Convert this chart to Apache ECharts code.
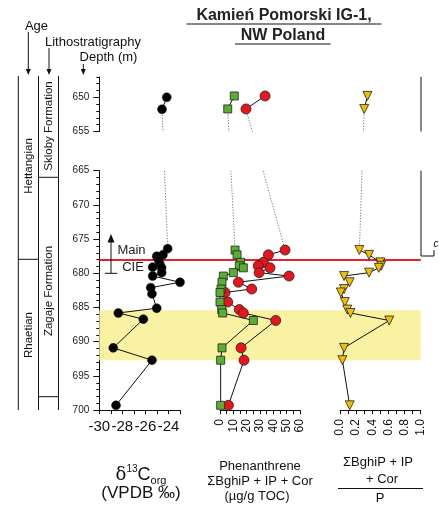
<!DOCTYPE html>
<html>
<head>
<meta charset="utf-8">
<script src="https://cdn.jsdelivr.net/npm/echarts@6/dist/echarts.min.js"></script>
<style>
  html, body { margin: 0; padding: 0; background: #fff; }
  #chart { width: 439px; height: 505px; }
</style>
</head>
<body>
<div id="chart"></div>
<script>
// d13C org samples (depth m / per mil)
const carbonDepth = [650.0, 651.75, 676.4, 677.3, 677.5, 678.1, 678.7, 679.1, 679.2, 679.9, 680.4, 681.3, 682.1, 683.0, 685.1, 685.8, 686.7, 690.9, 692.7, 699.3]
const carbonValue = [-24.15, -24.56, -24.07, -24.48, -25.02, -24.85, -24.74, -25.37, -24.59, -24.59, -25.37, -23.0, -25.54, -25.43, -25.02, -28.35, -26.18, -28.79, -25.43, -28.55]

// PAH samples
const pahDepth = [649.8, 651.7, 676.6, 677.3, 678.4, 678.9, 679.2, 679.9, 680.4, 681.3, 682.3, 682.8, 684.2, 685.3, 685.8, 686.9, 690.9, 692.7, 699.3]
const phenanthrene = [33.8, 19.5, 48.8, 36.3, 32.5, 28.7, 37.5, 29.3, 51.8, 13.8, 23.8, 3.8, 5.8, 14.5, 17.5, 41.8, 15.8, 18.0, 6.3]
const combustion = [10.7, 5.8, 11.3, 12.8, 15.5, 14.5, 17.5, 10.0, 2.5, 1.5, 0.8, 0.0, 0.0, 1.3, 2.0, 25.0, 1.5, 0.5, 0.5]
const ratio = [0.34, 0.30, 0.24, 0.36, 0.50, 0.51, 0.48, 0.36, 0.05, 0.12, 0.05, 0.01, 0.06, 0.09, 0.13, 0.61, 0.05, 0.03, 0.12]

// axis ticks / labels
const depthLabelsUpper = [650, 655]
const depthLabelsLower = [665, 670, 675, 680, 685, 690, 695, 700]
const carbonLabels = [-30, -28, -26, -24]
const carbonTicks = [-30, -29, -28, -27, -26, -25, -24, -23]
const pahLabels = [0, 10, 20, 30, 40, 50, 60]
const pahTicks = [0, 5, 10, 15, 20, 25, 30, 35, 40, 45, 50, 55, 60]
const ratioLabels = [0, 0.2, 0.4, 0.6, 0.8, 1.0]
const ratioTicks = [0, 0.1, 0.2, 0.3, 0.4, 0.5, 0.6, 0.7, 0.8, 0.9, 1.0]

const cieDepth = 678.0
const bandDepth = [685.4, 692.7]

// depth axis is broken between 655 and 665 m
const breakTop = 655
const breakBottom = 665
const breakGap = 5.73
const toPlot = (d) => (d <= breakTop ? d : d - (breakBottom - breakTop) + breakGap)

const FONT = 'Liberation Sans, Arial, sans-serif'
const top0 = 76.8
const pxPerM = 6.84
const plotMin = 647
const plotMax = toPlot(700)
const plotH = (plotMax - plotMin) * pxPerM
const lowerTop = top0 + (toPlot(breakBottom) - plotMin) * pxPerM

const range = (a, b) => {
  const out = []
  for (let v = a; v <= b; v++) out.push(v)
  return out
}

const chart = echarts.init(document.getElementById('chart'))

function profile(values, depths, axis, mark) {
  const pts = values.map((v, i) => [v, toPlot(depths[i])])
  const nUpper = depths.filter((d) => d <= breakTop).length
  const base = {
    type: 'line',
    xAxisIndex: axis,
    yAxisIndex: axis,
    clip: false,
    animation: false,
    silent: true,
    z: 5,
    symbol: mark.symbol,
    symbolSize: mark.size,
    symbolRotate: mark.rotate || 0,
    itemStyle: { color: mark.color, borderColor: '#222', borderWidth: mark.border },
    lineStyle: { color: '#111', width: 1 }
  }
  return [
    { ...base, data: [pts[nUpper - 1], pts[nUpper]], symbol: 'none', z: 4,
      lineStyle: { color: '#777', width: 1, type: [1.2, 1.6] } },
    { ...base, data: pts.slice(0, nUpper) },
    { ...base, data: pts.slice(nUpper) }
  ]
}

const axisLine = { lineStyle: { color: '#111', width: 1 } }

function bottomAxis(grid, min, max, interval, ticks, labels, label) {
  return {
    gridIndex: grid,
    type: 'value',
    min,
    max,
    interval,
    axisLine,
    axisTick: { customValues: ticks, length: 4, lineStyle: { color: '#111' } },
    axisLabel: { customValues: labels, color: '#111', fontFamily: FONT, ...label },
    splitLine: { show: false }
  }
}

const hiddenY = (grid) => ({ gridIndex: grid, type: 'value', min: plotMin, max: plotMax, inverse: true, show: false })

function depthAxes(grid, min, max, labels) {
  return [
    { gridIndex: grid, type: 'value', position: 'left', min, max, inverse: true,
      axisLine, splitLine: { show: false },
      axisTick: { customValues: range(min, max), length: 3, lineStyle: { color: '#111' } },
      axisLabel: { show: false } },
    { gridIndex: grid, type: 'value', position: 'left', min, max, inverse: true,
      axisLine: { show: false }, splitLine: { show: false },
      axisTick: { customValues: labels, length: 6, lineStyle: { color: '#111' } },
      axisLabel: { customValues: labels, fontSize: 10, color: '#222', fontFamily: FONT, margin: 10 } }
  ]
}

const line = (x1, y1, x2, y2, w) => ({
  type: 'line', z: 10, silent: true,
  shape: { x1, y1, x2, y2 },
  style: { stroke: '#111', lineWidth: w || 1 }
})
const text = (x, y, str, size, extra) => ({
  type: 'text', z: 10, silent: true, x, y,
  style: { text: str, fill: '#111', fontSize: size, fontFamily: FONT, align: 'center', verticalAlign: 'middle', ...extra }
})
const vtext = (x, y, str, size) => ({ ...text(x, y, str, size), rotation: Math.PI / 2 })
const arrowDown = (x, y1, y2) => [
  line(x, y1, x, y2 - 4),
  { type: 'polygon', z: 10, silent: true, shape: { points: [[x - 2.5, y2 - 6], [x + 2.5, y2 - 6], [x, y2]] }, style: { fill: '#111' } }
]

const gridBase = { outerBoundsMode: 'none', containLabel: false }

const options = {
  animation: false,
  backgroundColor: '#fff',
  textStyle: { fontFamily: FONT },
  grid: [
    { ...gridBase, left: 99.3, top: top0, width: 80.7, height: plotH },
    { ...gridBase, left: 220, top: top0, width: 80, height: plotH },
    { ...gridBase, left: 340, top: top0, width: 80.7, height: plotH },
    { ...gridBase, left: 99.3, top: top0, width: 321.4, height: plotH },
    { ...gridBase, left: 99.3, top: top0, width: 80, height: (breakTop - plotMin) * pxPerM },
    { ...gridBase, left: 99.3, top: lowerTop, width: 80, height: (700 - breakBottom) * pxPerM }
  ],
  xAxis: [
    bottomAxis(0, -30, -23, 2, carbonTicks, carbonLabels, { fontSize: 15, margin: 9 }),
    bottomAxis(1, 0, 60, 10, pahTicks, pahLabels, { fontSize: 12, rotate: 90, margin: 9 }),
    bottomAxis(2, 0, 1, 0.2, ratioTicks, ratioLabels, { fontSize: 12, rotate: 90, margin: 9, formatter: (v) => v.toFixed(1) }),
    { gridIndex: 3, type: 'value', min: 0, max: 1, show: false },
    { gridIndex: 4, type: 'value', min: 0, max: 1, show: false },
    { gridIndex: 5, type: 'value', min: 0, max: 1, show: false }
  ],
  yAxis: [
    hiddenY(0),
    hiddenY(1),
    hiddenY(2),
    hiddenY(3),
    ...depthAxes(4, 647, 655, depthLabelsUpper),
    ...depthAxes(5, 665, 700, depthLabelsLower)
  ],
  series: [
    {
      type: 'line',
      xAxisIndex: 3,
      yAxisIndex: 3,
      data: [[0, toPlot(cieDepth)]],
      symbol: 'none',
      lineStyle: { width: 0 },
      silent: true,
      z: 1,
      markArea: {
        silent: true,
        itemStyle: { color: '#F8F2A2' },
        data: [[{ yAxis: toPlot(bandDepth[0]) }, { yAxis: toPlot(bandDepth[1]) }]]
      },
      markLine: {
        silent: true,
        symbol: 'none',
        label: { show: false },
        lineStyle: { color: '#E8202A', width: 2, type: 'solid' },
        data: [{ yAxis: toPlot(cieDepth) }]
      }
    },
    ...profile(carbonValue, carbonDepth, 0, { symbol: 'circle', size: 9, color: '#000', border: 0.5 }),
    ...profile(phenanthrene, pahDepth, 1, { symbol: 'circle', size: 10, color: '#E8161C', border: 0.8 }),
    ...profile(combustion, pahDepth, 1, { symbol: 'rect', size: 8, color: '#5AAE32', border: 0.8 }),
    ...profile(ratio, pahDepth, 2, { symbol: 'triangle', size: 9, rotate: 180, color: '#F0BE00', border: 0.8 })
  ],
  graphic: [
    // mask the depth break
    { type: 'rect', z: 50, silent: true, shape: { x: 100.5, y: top0 + (breakTop - plotMin) * pxPerM + 0.3, width: 319, height: lowerTop - top0 - (breakTop - plotMin) * pxPerM - 0.6 }, style: { fill: '#fff' } },
    // title
    text(284, 16, 'Kamień Pomorski IG-1,', 16, { fontWeight: 'bold', fill: '#222' }),
    line(186.5, 24, 381.5, 24, 1.2),
    text(283, 35.5, 'NW Poland', 16, { fontWeight: 'bold', fill: '#222' }),
    line(235, 44, 330.5, 44, 1.2),
    // column headings
    text(36.5, 26, 'Age', 13),
    text(93, 42, 'Lithostratigraphy', 13),
    text(108.5, 57.5, 'Depth (m)', 13),
    ...arrowDown(28.3, 32, 75),
    ...arrowDown(49, 48, 75),
    ...arrowDown(83.3, 64, 75),
    // age / formation columns
    line(18.3, 76, 18.3, 410),
    line(38.5, 76, 38.5, 410),
    line(58.5, 76, 58.5, 410),
    line(18.3, 259.3, 38.5, 259.3),
    line(38.5, 177.3, 58.5, 177.3),
    line(38.5, 396.7, 58.5, 396.7),
    vtext(28.5, 166, 'Hettangian', 11.5),
    vtext(28.5, 335, 'Rhaetian', 11.5),
    vtext(49, 126, 'Skloby Formation', 11.5),
    vtext(49, 291, 'Zagaje Formation', 11.5),
    // main CIE marker
    line(111, 273.3, 111, 240),
    { type: 'polygon', z: 10, silent: true, shape: { points: [[107.5, 242.5], [114.5, 242.5], [111, 234]] }, style: { fill: '#111' } },
    line(105, 273.3, 117.3, 273.3),
    text(131.5, 250.5, 'Main', 13, { fill: '#222' }),
    text(133, 267.5, 'CIE', 13, { fill: '#222' }),
    // interval c bracket
    line(421, 76.8, 421, 131.5),
    line(421, 170.7, 421, 256),
    line(421, 256, 434, 256),
    line(434, 250, 434, 256),
    text(436, 244, 'c', 10, { fontStyle: 'italic' }),
    // bottom titles
    {
      type: 'text', z: 10, silent: true, x: 141, y: 475,
      style: {
        text: '{d|δ}{sup|13}{c|C}{sub|org}',
        align: 'center', verticalAlign: 'middle', fill: '#111',
        rich: {
          d: { fontSize: 18, fontFamily: 'DejaVu Serif, serif', lineHeight: 22, verticalAlign: 'middle' },
          sup: { fontSize: 10, fontFamily: FONT, lineHeight: 12, verticalAlign: 'top' },
          c: { fontSize: 18, fontFamily: FONT, lineHeight: 22, verticalAlign: 'middle' },
          sub: { fontSize: 11, fontFamily: FONT, lineHeight: 10, verticalAlign: 'bottom' }
        }
      }
    },
    text(141, 493.5, '(VPDB ‰)', 17),
    text(260, 466, 'Phenanthrene', 13),
    text(260, 481, 'ΣBghiP + IP + Cor', 13),
    text(257, 496.5, '(µg/g TOC)', 13),
    text(378, 462.5, 'ΣBghiP + IP', 13),
    text(382, 479.5, '+ Cor', 13),
    line(338, 488.5, 423, 488.5),
    text(380, 498.5, 'P', 13)
  ]
}

chart.setOption(options)
</script>
</body>
</html>
